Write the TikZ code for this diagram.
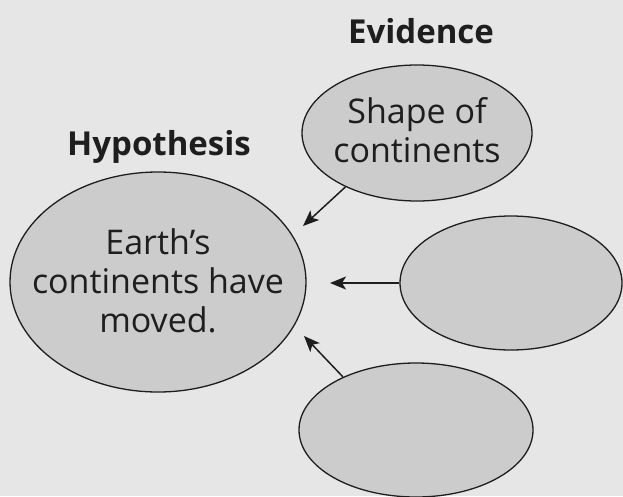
\documentclass[tikz,border=0pt]{standalone}
\usepackage{fontspec}
\setmainfont{Open Sans}
\usepackage{tikz}
\usetikzlibrary{shapes.geometric, arrows.meta, positioning}
\definecolor{pageGray}  {HTML}{E6E6E6}
\definecolor{bubbleGray}{HTML}{CCCCCC}
\definecolor{inkDark}   {HTML}{1E1E1E}
\tikzset{
  bubble/.style     = {ellipse, draw=inkDark, line width=1.3pt,
                       fill=bubbleGray, inner sep=0pt},
  bubbletext/.style = {align=center, text=inkDark, inner sep=0pt,
                       font=\fontsize{34}{39}\selectfont},
  heading/.style    = {anchor=base, text=inkDark,
                       font=\fontsize{33}{36}\selectfont\bfseries},
  arrow/.style      = {-{Stealth[length=16pt, width=13pt, inset=4pt]},
                       line width=1.5pt, color=inkDark},
}

\begin{document}
\begin{tikzpicture}[x=1pt, y=-1pt]
    \useasboundingbox (0,0) rectangle (623,496);
    \fill[pageGray] (0,0) rectangle (623,496);
    % headings
    \node[heading] (evhead)  at (421,43)  {Evidence};
    \node[heading] (hyphead) at (159,155) {Hypothesis};
    % hypothesis bubble
    \node[bubble, minimum width=296pt, minimum height=220pt] (hyp) at (158,282) {};
    \node[bubbletext] (hyptext) at (158,281) {Earth’s\\continents have\\moved.};
    % evidence bubbles
    \node[bubble, minimum width=230pt, minimum height=136pt] (ev1) at (417,133) {};
    \node[bubbletext] (ev1text) at (417,130) {Shape of\\continents};
    \node[bubble, minimum width=222pt, minimum height=134pt] (ev2) at (511,283) {};
    \node[bubble, minimum width=234pt, minimum height=134pt] (ev3) at (416,430) {};
    % arrows
    \coordinate (tip1) at (303,226);
    \coordinate (tip2) at (330,283);
    \coordinate (tip3) at (304,336);
    \draw[arrow] (ev1.217) -- (tip1);
    \draw[arrow] (ev2.west) -- (tip2);
    \draw[arrow] (ev3.144) -- (tip3);
\end{tikzpicture}
\end{document}
